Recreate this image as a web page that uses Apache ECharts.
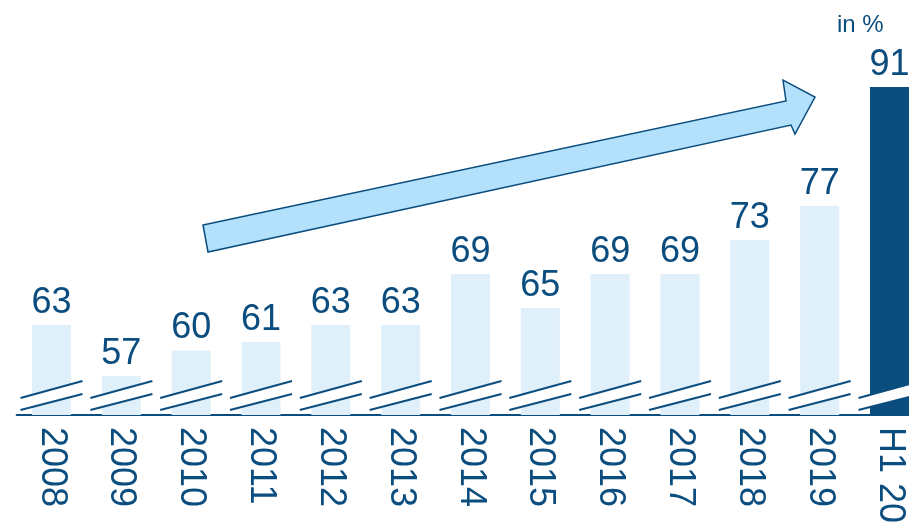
<!DOCTYPE html>
<html><head><meta charset="utf-8">
<script src="https://cdn.jsdelivr.net/npm/echarts@6/dist/echarts.min.js"></script>
<style>html,body{margin:0;padding:0;background:#fff}#c{width:909px;height:524px}</style>
</head><body><div id="c"></div>
<script>
const categories = ['2008','2009','2010','2011','2012','2013','2014','2015','2016','2017','2018','2019','H1 2020'];
const values = [63,57,60,61,63,63,69,65,69,69,73,77,91];
const unitLabel = 'in %';

const DARK = '#0b4d7e';
const LIGHT = '#dff0fb';
const FONT = 'Liberation Sans, Arial, sans-serif';
const yMin = 52.4, yMax = 100.4;

const chart = echarts.init(document.getElementById('c'));
chart.setOption({
  animation: false,
  grid: {left: 16.6, right: -15.4, top: 7, bottom: 109, containLabel: false, outerBoundsMode: 'none'},
  xAxis: {
    type: 'category', data: categories,
    axisLine: {lineStyle: {color: DARK, width: 2}},
    axisTick: {show: false},
    axisLabel: {rotate: -90, margin: 12, color: DARK, fontSize: 36, fontFamily: FONT, interval: 0, hideOverlap: false}
  },
  yAxis: {type: 'value', min: yMin, max: yMax, show: false, splitLine: {show: false}},
  series: [
    {
      type: 'bar', barWidth: 39,
      data: values.map((v, i) => ({value: v, itemStyle: {color: i === values.length - 1 ? DARK : LIGHT}})),
      label: {show: true, position: 'top', distance: 4, color: DARK, fontSize: 36, fontFamily: FONT}
    },
    {
      type: 'custom',
      data: categories.map((c, i) => i),
      z: 5,
      renderItem: function (params, api) {
        const p = api.coord([api.value(0), yMin]);
        const c = p[0], b = p[1];
        const dx = 31;
        const uy1 = b - 17, uy2 = b - 34;
        const ly1 = b - 5, ly2 = b - 21;
        return {
          type: 'group',
          children: [
            {type: 'polygon', shape: {points: [[c - dx, uy1], [c + dx, uy2], [c + dx, ly2], [c - dx, ly1]]}, style: {fill: '#fff'}},
            {type: 'line', shape: {x1: c - dx, y1: uy1, x2: c + dx, y2: uy2}, style: {stroke: DARK, lineWidth: 2}},
            {type: 'line', shape: {x1: c - dx, y1: ly1, x2: c + dx, y2: ly2}, style: {stroke: DARK, lineWidth: 2}}
          ]
        };
      }
    }
  ],
  graphic: [
    {
      type: 'polygon', z: 10,
      shape: {points: [[203, 225], [786, 101], [783, 80], [815, 97], [795, 134], [791, 125], [208, 252]]},
      style: {fill: '#b3e0fb', stroke: DARK, lineWidth: 1.5}
    },
    {
      type: 'text', left: 837, top: 13, z: 10,
      style: {text: unitLabel, fill: DARK, fontSize: 24, fontFamily: FONT}
    }
  ]
});
</script></body></html>
